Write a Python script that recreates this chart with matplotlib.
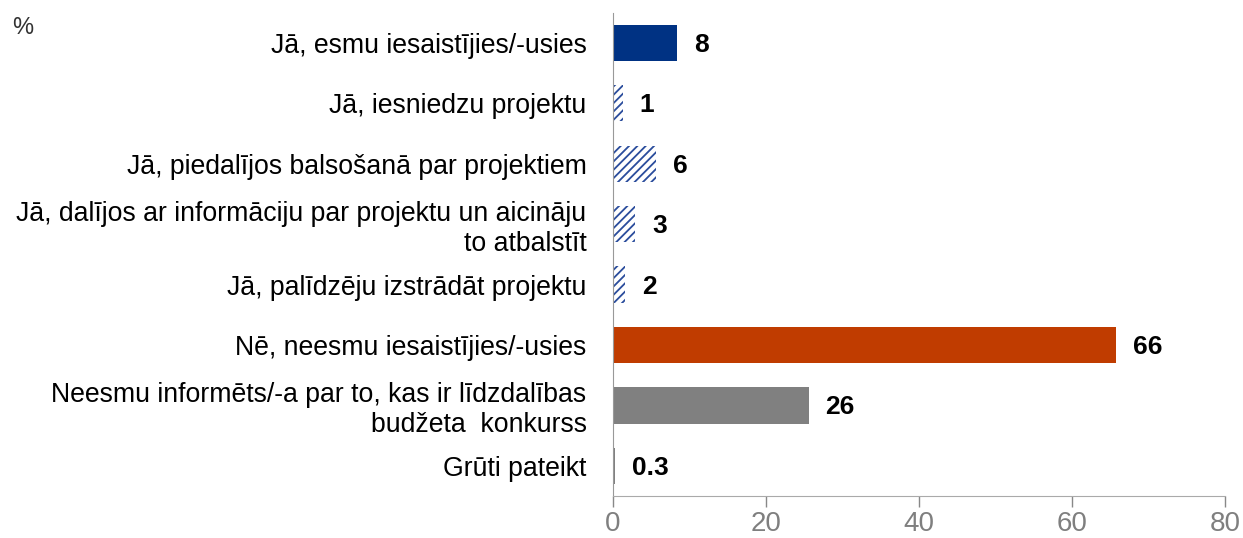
import matplotlib.pyplot as plt
import numpy as np

plt.rcParams['font.family'] = ['Liberation Sans', 'DejaVu Sans']

categories = [
    'Jā, esmu iesaistījies/-usies',
    'Jā, iesniedzu projektu',
    'Jā, piedalījos balsošanā par projektiem',
    'Jā, dalījos ar informāciju par projektu un aicināju\nto atbalstīt',
    'Jā, palīdzēju izstrādāt projektu',
    'Nē, neesmu iesaistījies/-usies',
    'Neesmu informēts/-a par to, kas ir līdzdalības\nbudžeta  konkurss',
    'Grūti pateikt',
]
values = [8.4, 1.3, 5.6, 2.9, 1.6, 65.8, 25.6, 0.3]
labels = ['8', '1', '6', '3', '2', '66', '26', '0.3']
colors = ['#003283', 'white', 'white', 'white', 'white', '#C03C00', '#808080', '#808080']
hatches = [None, '////', '////', '////', '////', None, None, None]

plt.rcParams['hatch.linewidth'] = 1.3
plt.rcParams['hatch.color'] = '#2A4C9C'

fig = plt.figure(figsize=(12.43, 5.38), dpi=100)
ax = fig.add_axes([613 / 1243, 42 / 538, 612 / 1243, (496 - 12.7) / 538])

y = np.arange(len(categories))
for i in range(len(categories)):
    ax.barh(y[i], values[i], height=0.6, color=colors[i], hatch=hatches[i],
            edgecolor='#2A4C9C' if hatches[i] else colors[i], linewidth=0)
    ax.annotate(labels[i], (values[i], y[i]), xytext=(12, -1.5), textcoords='offset points',
                va='center', ha='left', fontsize=19, fontweight='bold', color='black')

ax.set_ylim(len(categories) - 0.5, -0.5)
ax.set_xlim(0, 80)
ax.set_xticks([0, 20, 40, 60, 80])
ax.set_yticks(y)
ax.set_yticklabels(categories, fontsize=19.2, ha='right', linespacing=1.2)
ax.tick_params(axis='y', length=0, pad=19)
ax.tick_params(axis='x', colors='#888888', labelsize=20, length=8, width=1, direction='out', pad=3)
for lbl in ax.get_xticklabels():
    lbl.set_color('#7f7f7f')

for s in ['top', 'right']:
    ax.spines[s].set_visible(False)
ax.spines['left'].set_color('#999999')
ax.spines['bottom'].set_color('#aaaaaa')

fig.text(12 / 1243, 1 - 28 / 538, '%', fontsize=17, va='center', ha='left', color='#333333')

fig.savefig('out.png', dpi=100)
